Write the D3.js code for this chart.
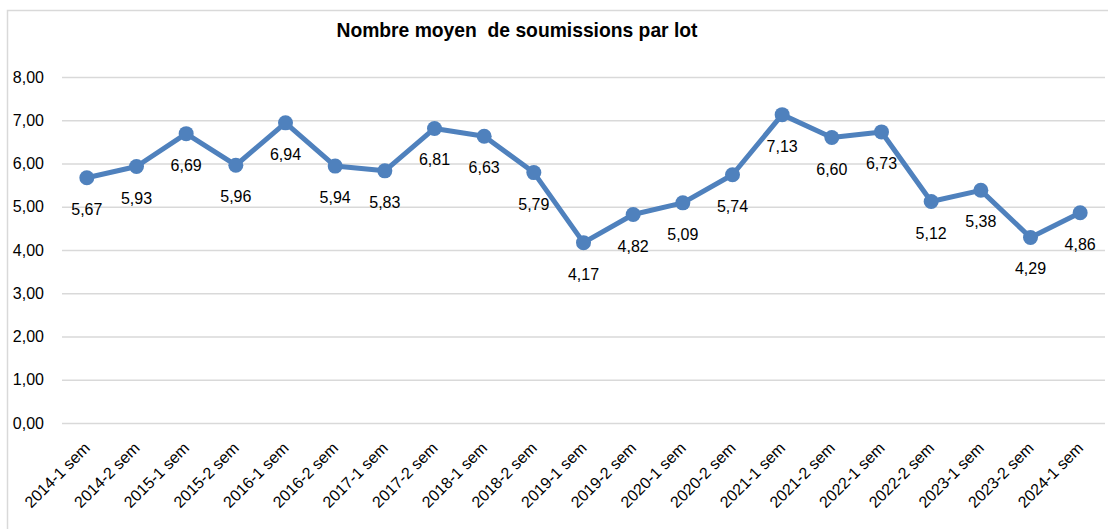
<!DOCTYPE html>
<html><head><meta charset="utf-8">
<script src="https://cdn.jsdelivr.net/npm/d3@7"></script>
<style>body{margin:0;background:#fff}svg{display:block}text{font-family:"Liberation Sans",Arial,sans-serif;fill:#000}</style>
</head><body><svg id="c" width="1108" height="529"></svg>
<script>
const title = "Nombre moyen  de soumissions par lot";
const categories = ["2014-1 sem","2014-2 sem","2015-1 sem","2015-2 sem","2016-1 sem","2016-2 sem","2017-1 sem","2017-2 sem","2018-1 sem","2018-2 sem","2019-1 sem","2019-2 sem","2020-1 sem","2020-2 sem","2021-1 sem","2021-2 sem","2022-1 sem","2022-2 sem","2023-1 sem","2023-2 sem","2024-1 sem"];
const values = [5.67,5.93,6.69,5.96,6.94,5.94,5.83,6.81,6.63,5.79,4.17,4.82,5.09,5.74,7.13,6.60,6.73,5.12,5.38,4.29,4.86];
const yTicks = [0,1,2,3,4,5,6,7,8];

const svg = d3.select("#c");
const fmt = v => d3.format(".2f")(v).replace(".", ",");
svg.append("rect").attr("x",7.5).attr("y",10.5).attr("width",1110).attr("height",530)
  .attr("fill","#fff").attr("stroke","#d9d9d9").attr("stroke-width",1.5);

const x = d3.scaleBand().domain(categories).range([62,1105]);
const y = d3.scaleLinear().domain([0,8]).range([423,77]);

svg.append("text").attr("x",517).attr("y",37).attr("text-anchor","middle")
  .style("font-weight","bold").style("font-size","19.3px").style("white-space","pre")
  .attr("xml:space","preserve").text(title);

const yAxis = svg.append("g").attr("transform","translate(62,0)")
  .call(d3.axisLeft(y).tickValues(yTicks).tickFormat(fmt).tickSize(-1043).tickPadding(18));
yAxis.select(".domain").remove();
yAxis.selectAll(".tick line").attr("stroke","#d9d9d9").attr("stroke-width",1.5);
yAxis.selectAll(".tick text").style("font-size","16px").attr("fill","#000");

const xAxis = svg.append("g").attr("transform","translate(0,423)")
  .call(d3.axisBottom(x).tickSize(0));
xAxis.select(".domain").remove();
xAxis.selectAll(".tick text").style("font-size","16px").attr("fill","#000")
  .attr("text-anchor","end").attr("dy",0)
  .attr("transform","translate(2,24) rotate(-45)");

const cx = d => x(d) + x.bandwidth()/2;
const line = d3.line().x((d,i)=>cx(categories[i])).y(d=>y(d));
svg.append("path").datum(values).attr("d",line).attr("fill","none")
  .attr("stroke","#4f81bd").attr("stroke-width",5).attr("stroke-linejoin","round");
svg.selectAll("circle.pt").data(values).enter().append("circle")
  .attr("cx",(d,i)=>cx(categories[i])).attr("cy",d=>y(d)).attr("r",7.5).attr("fill","#4f81bd");
svg.selectAll("text.lbl").data(values).enter().append("text")
  .attr("x",(d,i)=>cx(categories[i])).attr("y",d=>y(d)+37)
  .attr("text-anchor","middle").style("font-size","16px").text(fmt);
</script></body></html>
